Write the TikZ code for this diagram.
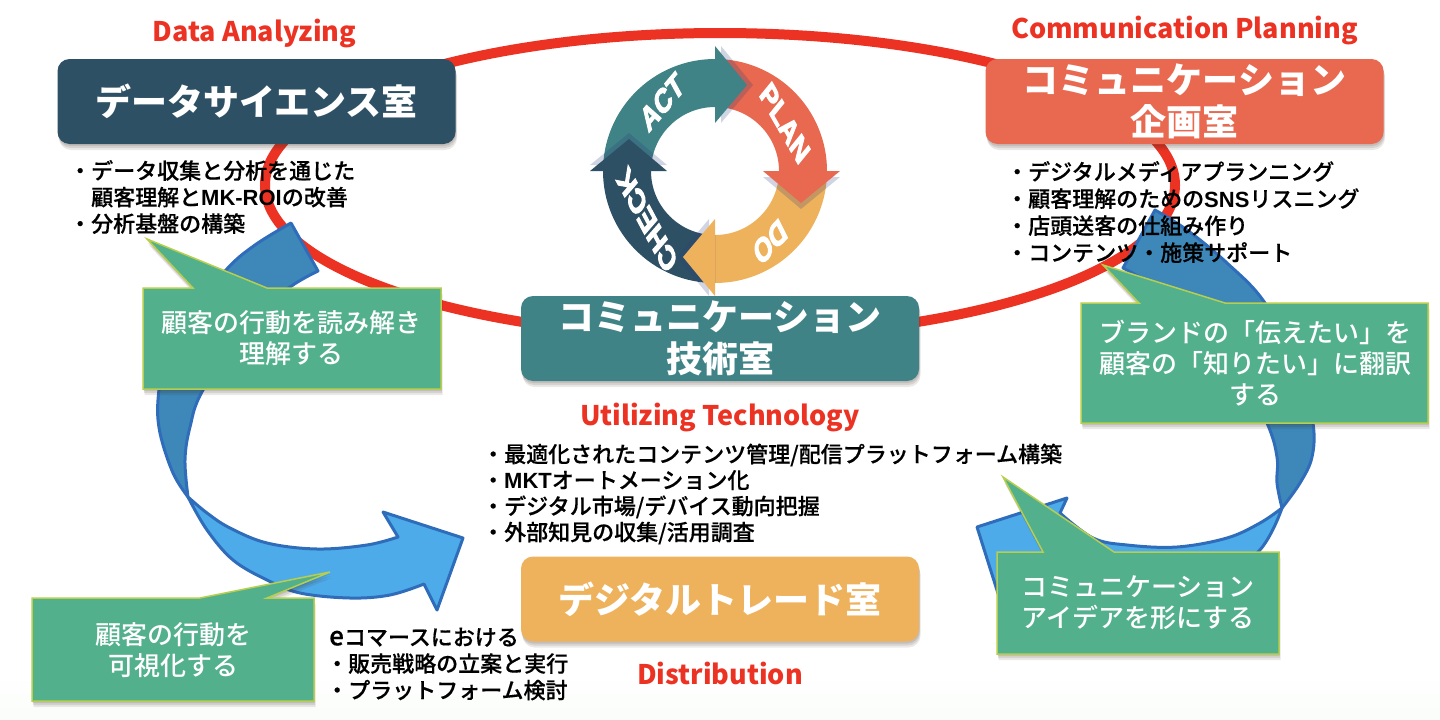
\documentclass[tikz,border=0pt]{standalone}
\usepackage{fontspec}
\usepackage{tikz}
\usetikzlibrary{shadows}
\setmainfont{Noto Sans CJK JP}
\newfontfamily\jpmed{Noto Sans CJK JP Medium}
\newfontfamily\jplist{Noto Sans CJK JP Medium}[FakeBold=0.4]
\newfontfamily\latfont{Liberation Sans Bold}
\newfontfamily\ringfont{Liberation Sans Bold}[FakeBold=4]
\definecolor{navyroom}{HTML}{2E5064}
\definecolor{coralroom}{HTML}{E8694F}
\definecolor{tealroom}{HTML}{3F8386}
\definecolor{goldroom}{HTML}{EFB25C}
\definecolor{loopred}{HTML}{EC3223}
\definecolor{calloutgreen}{HTML}{52B08D}
\definecolor{calloutedge}{HTML}{B7CE4E}
\definecolor{backblue}{HTML}{3D88B8}
\definecolor{frontblue}{HTML}{4DABE9}
\definecolor{blueedge}{HTML}{2F6DBB}
\definecolor{shadebrown}{HTML}{3A2A20}
\definecolor{shadeblue}{HTML}{2A3A80}
\definecolor{floorgreen}{HTML}{FAFDFA}
\newcommand{\mk}[1]{{\latfont #1}}

\begin{document}
\begin{tikzpicture}[x=1pt, y=-1pt, node distance=74pt]
    \tikzstyle{softshade} = [general shadow={fill=shadebrown, opacity=.12, shadow xshift=.5pt, shadow yshift=-2pt}, general shadow={fill=shadebrown, opacity=.12, shadow xshift=1pt, shadow yshift=-4pt}, general shadow={fill=shadebrown, opacity=.1, shadow xshift=1.5pt, shadow yshift=-6pt}]
    \tikzstyle{room} = [rectangle, rounded corners=12pt, minimum width=398pt, minimum height=85pt, inner sep=0pt, align=center, text=white, softshade, font=\fontsize{36}{42}\selectfont\bfseries]
    \tikzstyle{engtitle} = [text=loopred, inner sep=0pt, font=\fontsize{27}{32}\selectfont\bfseries]
    \tikzstyle{duties} = [anchor=west, align=left, inner sep=0pt, text=black, font=\fontsize{22}{26.5}\selectfont\jplist]
    \tikzstyle{callout} = [fill=calloutgreen, draw=calloutedge, line width=1.5pt, line join=miter, softshade]
    \tikzstyle{callouttext} = [align=center, inner sep=0pt, text=white, font=\fontsize{26}{31}\selectfont\jpmed]
    \tikzstyle{bigarrow} = [draw=blueedge, line width=3pt, line join=round]
    \tikzstyle{ringword} = [text=white, inner sep=0pt, xscale=.68, font=\fontsize{34}{34}\selectfont\ringfont]

    \useasboundingbox (0,0) rectangle (1440,720);

    % faint floor
    \fill [top color=white, bottom color=floorgreen] (0,668) rectangle (1440,720);

    % red loop
    \draw [loopred, line width=10pt] (720,185) ellipse [x radius=455, y radius=152];

    % left big arrow
    \draw [bigarrow, fill=backblue] plot [smooth, tension=.6] coordinates {(291,223) (255,245) (226,270) (187,320) (165,365) (158,400) (160,433) (173,473) (188,497)} -- plot [smooth, tension=.6] coordinates {(188,497) (185,460) (190,427) (203,390) (250,320) (290,287) (318,271)} -- cycle;
    \draw [bigarrow, fill=frontblue] plot [smooth, tension=.6] coordinates {(188,497) (207,530) (233,560) (267,580) (300,593) (350,598) (390,595) (424,584)} -- (437,610) -- (463,538) -- (383,512) -- (398,537) -- plot [smooth, tension=.6] coordinates {(398,537) (367,545) (317,549) (267,543) (230,528) (207,513) (188,497)} -- cycle;

    % right big arrow
    \draw [bigarrow, fill=backblue] plot [smooth, tension=.6] coordinates {(1155,210) (1187,230) (1227,263) (1265,303) (1300,370) (1313,423) (1312,457) (1300,483) (1282,508)} -- plot [smooth, tension=.6] coordinates {(1282,508) (1277,483) (1277,457) (1267,423) (1235,360) (1180,303) (1123,268)} -- cycle;
    \draw [bigarrow, fill=frontblue] plot [smooth, tension=.6] coordinates {(1282,508) (1258,552) (1200,590) (1120,605) (1050,605)} -- (1008,625) -- (977,527) -- (1067,498) -- (1060,513) -- plot [smooth, tension=.6] coordinates {(1060,513) (1093,538) (1127,545) (1177,547) (1227,538) (1260,523) (1282,508)} -- cycle;

    % rooms
    \node (data) [room, fill=navyroom] at (256.5,101.5) {データサイエンス室};
    \node (plan) [room, fill=coralroom] at (1184.5,101.5) {コミュニケーション\\企画室};
    \node (tech) [room, fill=tealroom] at (720,338.5) {コミュニケーション\\技術室};
    \node (trade) [room, fill=goldroom] at (720,599) {デジタルトレード室};

    \node (dataTitle) [engtitle, above of=data, xshift=-2pt, yshift=-6pt] {Data Analyzing};
    \node (planTitle) [engtitle, above of=plan, yshift=-3pt] {Communication Planning};
    \node (techTitle) [engtitle, below of=tech, yshift=-5pt] {Utilizing Technology};
    \node (tradeTitle) [engtitle, below of=trade] {Distribution};

    % pdca ring
    \begin{scope}[shift={(715,171)}, x=1pt, y=1pt]
        \foreach \turn/\shade in {0/tealroom, -90/coralroom, -180/goldroom, -270/navyroom} {
            \fill [rotate=\turn, \shade] (180:112) arc (180:90:112) -- (90:64) arc (90:180:64) -- cycle;
        }
        \foreach \turn/\shade in {0/tealroom, -90/coralroom, -180/goldroom, -270/navyroom} {
            \fill [rotate=\turn, xshift=6pt, shadeblue, opacity=.22] (0,125) -- (32,86) -- (0,48) -- cycle;
            \fill [rotate=\turn, \shade] (0,125) -- (32,86) -- (0,48) -- cycle;
        }
    \end{scope}
    \node (act) [ringword, rotate=39] at (662,102) {ACT};
    \node (planWord) [ringword, rotate=-50] at (785,123) {PLAN};
    \node (do) [ringword, rotate=216] at (770,242) {DO};
    \node (check) [ringword, rotate=128] at (647,220) {CHECK};

    % callouts
    \draw [callout] (143,288) -- (193,288) -- (147,239) -- (267,288) -- (441,288) -- (441,389) -- (143,389) -- cycle;
    \node (readText) [callouttext] at (291,338) {顧客の行動を読み解き\\理解する};

    \draw [callout] (1081,303) -- (1139,303) -- (1103,265) -- (1225,303) -- (1428,303) -- (1428,423) -- (1081,423) -- cycle;
    \node (brandText) [callouttext] at (1255,363) {ブランドの「伝えたい」を\\顧客の「知りたい」に翻訳\\する};

    \draw [callout] (997,552) -- (1043,552) -- (1003,477) -- (1114,552) -- (1279,552) -- (1279,654) -- (997,654) -- cycle;
    \node (ideaText) [callouttext] at (1138,603) {コミュニケーション\\アイデアを形にする};

    \draw [callout] (32,598) -- (200,598) -- (330,572) -- (267,598) -- (314,598) -- (314,701) -- (32,701) -- cycle;
    \node (seeText) [callouttext] at (173,650) {顧客の行動を\\可視化する};

    % duty lists
    \node (dataList) [duties] at (69,197) {・データ収集と分析を通じた\\\hspace*{22pt}顧客理解と\mk{MK-ROI}の改善\\・分析基盤の構築};
    \node (planList) [duties, font=\fontsize{22}{27}\selectfont\jplist] at (1006,212) {・デジタルメディアプランニング\\・顧客理解のための\mk{SNS}リスニング\\・店頭送客の仕組み作り\\・コンテンツ・施策サポート};
    \node (techList) [duties, font=\fontsize{22}{26}\selectfont\jplist] at (482,494) {・最適化されたコンテンツ管理/配信プラットフォーム構築\\・\mk{MKT}オートメーション化\\・デジタル市場/デバイス動向把握\\・外部知見の収集/活用調査};
    \node (tradeList) [duties] at (326,664) {\hspace*{3pt}{\fontsize{26}{26.5}\selectfont e}コマースにおける\\・販売戦略の立案と実行\\・プラットフォーム検討};
\end{tikzpicture}
\end{document}
